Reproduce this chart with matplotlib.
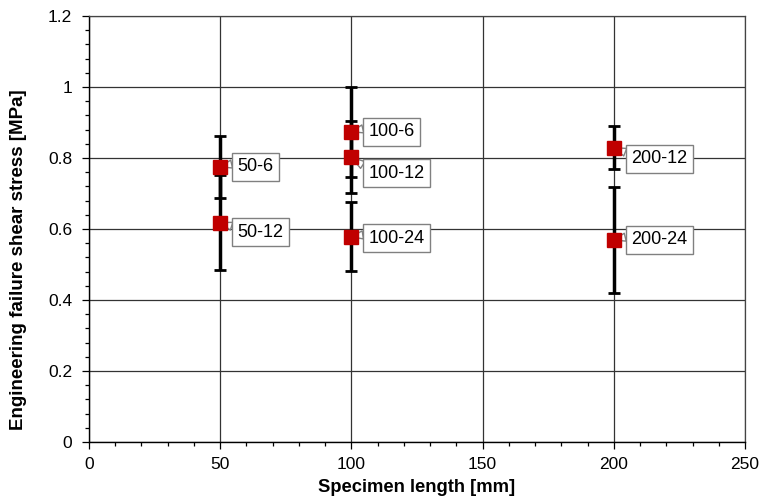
import matplotlib
matplotlib.use("Agg")
import matplotlib.pyplot as plt
from matplotlib.ticker import MultipleLocator

plt.rcParams['font.family'] = ['Liberation Sans', 'DejaVu Sans']

labels = ["50-6", "50-12", "100-6", "100-12", "100-24", "200-12", "200-24"]
lengths = [50, 50, 100, 100, 100, 200, 200]
stress = [0.775, 0.618, 0.874, 0.802, 0.578, 0.829, 0.569]
errors = [0.087, 0.134, 0.127, 0.102, 0.097, 0.061, 0.150]

# vertical offset (points) of each callout box relative to its point
label_dy = [0, -7, 0, -11.5, -1, -8, 0]

fig = plt.figure(figsize=(7.63, 4.99), dpi=100)
ax = fig.add_axes([0.1166, 0.1142, 0.8598, 0.8538])

ax.set_xlim(0, 250)
ax.set_ylim(0, 1.2)
ax.xaxis.set_major_locator(MultipleLocator(50))
ax.xaxis.set_minor_locator(MultipleLocator(10))
ax.yaxis.set_minor_locator(MultipleLocator(0.04))
ax.set_yticks([0, 0.2, 0.4, 0.6, 0.8, 1.0, 1.2])
ax.set_yticklabels(["0", "0.2", "0.4", "0.6", "0.8", "1", "1.2"])

ax.grid(True, which='major', color='#333333', linewidth=0.9)
ax.set_axisbelow(True)
for s in ['top', 'right']:
    ax.spines[s].set_color('#444444')
    ax.spines[s].set_linewidth(0.9)
for s in ['left', 'bottom']:
    ax.spines[s].set_color('black')
    ax.spines[s].set_linewidth(1.0)

ax.tick_params(which='both', direction='out', color='black', width=0.9)
ax.tick_params(which='major', length=5, labelsize=12.5)
ax.tick_params(axis='y', which='major', pad=7)
ax.tick_params(axis='x', which='major', pad=6)
ax.tick_params(which='minor', length=3)

ax.errorbar(lengths, stress, yerr=errors, fmt='none', ecolor='black',
            elinewidth=2.5, capsize=4.5, capthick=2, zorder=3)
ax.plot(lengths, stress, linestyle='none', marker='s', markersize=10.5,
        markerfacecolor='#C00000', markeredgecolor='#C00000', zorder=4)

for lab, x, y, dy in zip(labels, lengths, stress, label_dy):
    ax.annotate(lab, xy=(x, y), xytext=(12.5, dy), textcoords='offset points',
                fontsize=13, ha='left', va='center', zorder=3.5,
                bbox=dict(boxstyle='square,pad=0.3', fc='white', ec='#808080', lw=1),
                arrowprops=dict(arrowstyle='wedge,tail_width=0.45,shrink_factor=0.5',
                                fc='white', ec='#808080', lw=1,
                                shrinkA=0, shrinkB=0, relpos=(0, 0.75)))

ax.set_xlabel("Specimen length [mm]", fontsize=13.2, fontweight='bold', labelpad=5)
ax.set_ylabel("Engineering failure shear stress [MPa]", fontsize=13.5, fontweight='bold')
ax.yaxis.set_label_coords(-0.094, 0.427)

fig.savefig("out.png", dpi=100)
